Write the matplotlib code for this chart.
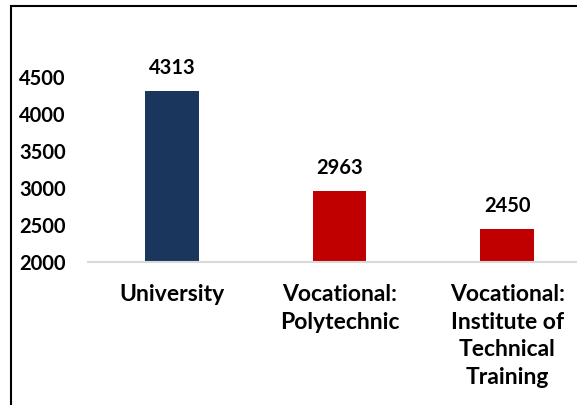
import matplotlib
matplotlib.use("Agg")
import matplotlib.pyplot as plt
from matplotlib.patches import Rectangle

categories = ["University", "Vocational:\nPolytechnic", "Vocational:\nInstitute of\nTechnical\nTraining"]
values = [4313, 2963, 2450]
colors = ["#1b365d", "#c00000", "#c00000"]
yticks = [2000, 2500, 3000, 3500, 4000, 4500]

plt.rcParams['font.family'] = ['Lato', 'DejaVu Sans']
plt.rcParams['font.weight'] = 'bold'

fig = plt.figure(figsize=(5.77, 4.05), dpi=100)
ax = fig.add_axes([0.1525, 0.353, 0.872, 0.457])

x = range(len(values))
ax.bar(x, [v - 2000 for v in values], bottom=2000, width=0.32, color=colors, zorder=2)
for xi, v in zip(x, values):
    ax.annotate(str(v), (xi, v), xytext=(0, 9), textcoords='offset points',
                ha='center', va='bottom', fontsize=14.5, fontweight='bold')

ax.set_xlim(-0.5, 2.5)
ax.set_ylim(2000, 4500)
ax.set_yticks(yticks)
ax.set_yticklabels([str(t) for t in yticks], fontsize=14.5, fontweight='bold')
ax.set_xticks(list(x))
ax.set_xticklabels(categories, fontsize=16.5, fontweight='bold', linespacing=1.38)
ax.tick_params(axis='both', length=0)
ax.tick_params(axis='y', pad=16)
ax.tick_params(axis='x', pad=16)
for s in ['top', 'right', 'left']:
    ax.spines[s].set_visible(False)
ax.spines['bottom'].set_color('#d9d9d9')
ax.spines['bottom'].set_linewidth(1.5)
ax.patch.set_alpha(0)

# outer frame
fig.patches.append(Rectangle((11 / 577, -0.1), 1.2, 1 - 6 / 405 + 0.1,
                             transform=fig.transFigure, fill=False,
                             edgecolor='black', linewidth=1.5))

fig.savefig("out.png", dpi=100)
